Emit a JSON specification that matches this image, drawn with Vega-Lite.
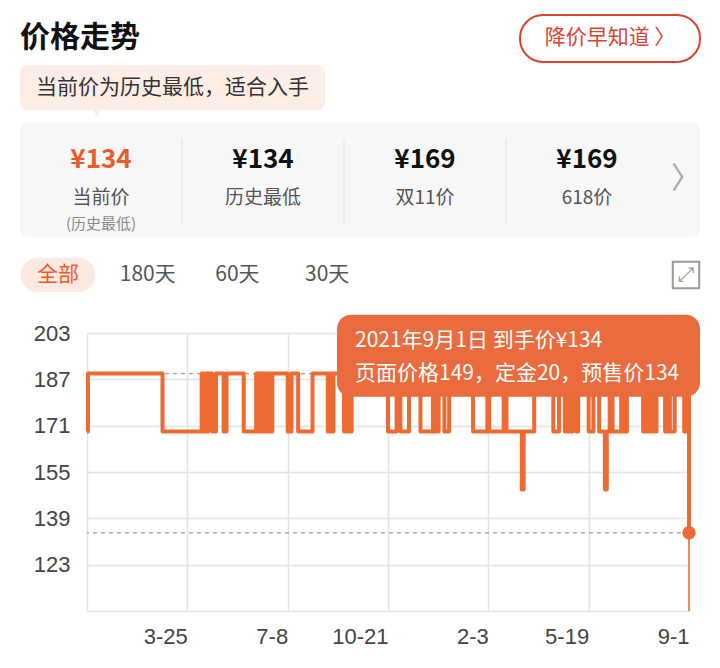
{
  "$schema": "https://vega.github.io/schema/vega-lite/v6.json",
  "background": "#ffffff",
  "padding": {"left": 20, "right": 20, "top": 0, "bottom": 0},
  "spacing": 0,
  "bounds": "flush",
  "config": {
    "view": {"stroke": null},
    "font": "Noto Sans CJK SC",
    "axisX": {"grid": true, "gridColor": "#E4E4E4", "gridWidth": 1.5, "domainColor": "#E4E4E4", "domainWidth": 1.5, "ticks": false, "labelAlign": "right", "labelFont": "Liberation Sans", "labelFontSize": 22, "labelColor": "#444444", "labelPadding": 15, "labelFlush": false, "labelOverlap": false},
    "axisY": {"grid": true, "gridColor": "#E4E4E4", "gridWidth": 1.5, "domainColor": "#E4E4E4", "domainWidth": 1.5, "ticks": false, "labelFont": "Liberation Sans", "labelFontSize": 22, "labelColor": "#444444", "labelPadding": 17}
  },
  "datasets": {
    "head": [{"part": "title", "label": "价格走势"}, {"part": "button", "label": "降价早知道 〉"}],
    "notice": [{"kind": "tip", "text": "当前价为历史最低，适合入手"}],
    "stats": [
      {"item": "当前价", "price": "¥134", "note": "(历史最低)"},
      {"item": "历史最低", "price": "¥134"},
      {"item": "双11价", "price": "¥169"},
      {"item": "618价", "price": "¥169"}
    ],
    "tabs": [{"tab": "全部"}, {"tab": "180天"}, {"tab": "60天"}, {"tab": "30天"}, {"tab": "expand"}],
    "refs": [{"line": "历史最高", "price": 189}, {"line": "历史最低", "price": 134}],
    "tip": [{"date": "2021-09-01", "price": 134, "lines": ["2021年9月1日 到手价¥134", "页面价格149，定金20，预售价134"]}],
    "series": [
      {"date":"2019-12-11","price":169},
      {"date":"2019-12-12","price":189},
      {"date":"2020-02-28","price":169},
      {"date":"2020-04-09","price":189},
      {"date":"2020-04-11","price":169},
      {"date":"2020-04-13","price":189},
      {"date":"2020-04-15","price":169},
      {"date":"2020-04-16","price":189},
      {"date":"2020-04-20","price":169},
      {"date":"2020-04-24","price":189},
      {"date":"2020-05-02","price":169},
      {"date":"2020-05-05","price":189},
      {"date":"2020-05-23","price":169},
      {"date":"2020-06-05","price":189},
      {"date":"2020-06-08","price":169},
      {"date":"2020-06-09","price":189},
      {"date":"2020-06-12","price":169},
      {"date":"2020-06-13","price":189},
      {"date":"2020-06-15","price":169},
      {"date":"2020-06-17","price":189},
      {"date":"2020-06-20","price":169},
      {"date":"2020-06-22","price":189},
      {"date":"2020-07-08","price":169},
      {"date":"2020-07-12","price":189},
      {"date":"2020-07-19","price":169},
      {"date":"2020-08-03","price":189},
      {"date":"2020-08-19","price":169},
      {"date":"2020-08-21","price":189},
      {"date":"2020-08-23","price":169},
      {"date":"2020-08-25","price":189},
      {"date":"2020-09-05","price":169},
      {"date":"2020-09-08","price":189},
      {"date":"2020-09-10","price":169},
      {"date":"2020-09-13","price":189},
      {"date":"2020-10-21","price":169},
      {"date":"2020-10-30","price":189},
      {"date":"2020-11-03","price":169},
      {"date":"2020-11-12","price":189},
      {"date":"2020-11-24","price":169},
      {"date":"2020-12-07","price":189},
      {"date":"2020-12-10","price":169},
      {"date":"2020-12-13","price":189},
      {"date":"2020-12-19","price":169},
      {"date":"2020-12-24","price":189},
      {"date":"2021-01-18","price":169},
      {"date":"2021-02-02","price":189},
      {"date":"2021-02-04","price":169},
      {"date":"2021-02-19","price":189},
      {"date":"2021-02-22","price":169},
      {"date":"2021-03-10","price":149},
      {"date":"2021-03-12","price":169},
      {"date":"2021-03-23","price":189},
      {"date":"2021-04-12","price":169},
      {"date":"2021-04-18","price":189},
      {"date":"2021-04-24","price":169},
      {"date":"2021-04-27","price":189},
      {"date":"2021-04-28","price":169},
      {"date":"2021-05-02","price":189},
      {"date":"2021-05-06","price":169},
      {"date":"2021-05-08","price":189},
      {"date":"2021-05-19","price":169},
      {"date":"2021-05-24","price":189},
      {"date":"2021-05-30","price":169},
      {"date":"2021-06-05","price":149},
      {"date":"2021-06-07","price":169},
      {"date":"2021-06-10","price":189},
      {"date":"2021-06-13","price":169},
      {"date":"2021-06-22","price":189},
      {"date":"2021-06-25","price":169},
      {"date":"2021-06-28","price":189},
      {"date":"2021-07-15","price":169},
      {"date":"2021-07-18","price":189},
      {"date":"2021-07-20","price":169},
      {"date":"2021-07-22","price":189},
      {"date":"2021-07-25","price":169},
      {"date":"2021-07-29","price":189},
      {"date":"2021-08-07","price":169},
      {"date":"2021-08-10","price":189},
      {"date":"2021-08-12","price":169},
      {"date":"2021-08-17","price":189},
      {"date":"2021-08-27","price":169},
      {"date":"2021-08-30","price":189},
      {"date":"2021-09-01","price":134}
    ]
  },
  "vconcat": [
    {
      "width": 680, "height": 65,
      "data": {"name": "head"},
      "encoding": {
        "x": {"field": "part", "type": "nominal", "axis": null, "scale": {"type": "band", "domain": ["title", "mid", "button"], "paddingInner": 0.28, "paddingOuter": 0}},
        "y": {"datum": "row", "type": "nominal", "axis": null, "scale": {"type": "band", "domain": ["row"], "paddingInner": 0, "paddingOuter": 0.191, "align": 0.833}}
      },
      "layer": [
        {"transform": [{"filter": "datum.part === 'button'"}], "mark": {"type": "bar", "fill": "#ffffff", "stroke": "#E0412F", "strokeWidth": 2, "cornerRadius": 23}},
        {"transform": [{"filter": "datum.part === 'button'"}], "mark": {"type": "text", "fontSize": 21, "color": "#E0412F", "baseline": "middle"}, "encoding": {"text": {"field": "label"}}},
        {"transform": [{"filter": "datum.part === 'title'"}], "mark": {"type": "text", "align": "left", "baseline": "middle", "fontSize": 30, "fontWeight": "bold", "color": "#111111"},
         "encoding": {"text": {"field": "label"}, "x": {"field": "part", "type": "nominal", "bandPosition": 0, "axis": null, "scale": {"type": "band", "domain": ["title", "mid", "button"], "paddingInner": 0.28, "paddingOuter": 0}}}}
      ]
    },
    {
      "width": 680, "height": 57,
      "data": {"name": "notice"},
      "encoding": {
        "x": {"field": "kind", "type": "nominal", "axis": null, "scale": {"type": "band", "domain": ["tip"], "paddingInner": 0, "paddingOuter": 0.615, "align": 0}},
        "y": {"datum": "row", "type": "nominal", "axis": null, "scale": {"type": "band", "domain": ["row"], "paddingInner": 0, "paddingOuter": 0.133, "align": 0}}
      },
      "layer": [
        {"mark": {"type": "bar", "color": "#FCEEE7", "cornerRadius": 8}},
        {"mark": {"type": "point", "shape": "triangle-down", "filled": true, "size": 220, "color": "#FCEEE7", "opacity": 1},
         "encoding": {
           "x": {"field": "kind", "type": "nominal", "bandPosition": 0.252, "axis": null, "scale": {"type": "band", "domain": ["tip"], "paddingInner": 0, "paddingOuter": 0.615, "align": 0}},
           "y": {"datum": "row", "type": "nominal", "bandPosition": 1, "axis": null, "scale": {"type": "band", "domain": ["row"], "paddingInner": 0, "paddingOuter": 0.133, "align": 0}}
         }},
        {"mark": {"type": "text", "fontSize": 21, "color": "#333333"}, "encoding": {"text": {"field": "text"}}}
      ]
    },
    {
      "width": 680, "height": 115,
      "view": {"fill": "#F7F7F7", "cornerRadius": 8, "stroke": null},
      "data": {"name": "stats"},
      "encoding": {
        "x": {"field": "item", "type": "nominal", "axis": null, "scale": {"type": "band", "domain": ["当前价", "历史最低", "双11价", "618价"], "paddingInner": 0, "paddingOuter": 0.0988, "align": 0}}
      },
      "layer": [
        {"transform": [{"filter": "datum.item !== '当前价'"}],
         "mark": {"type": "rule", "color": "#E9E9E9", "strokeWidth": 1.5, "yOffset": -21, "y2Offset": 24},
         "encoding": {
           "x": {"field": "item", "type": "nominal", "bandPosition": 0, "axis": null, "scale": {"type": "band", "domain": ["当前价", "历史最低", "双11价", "618价"], "paddingInner": 0, "paddingOuter": 0.0988, "align": 0}},
           "y": {"datum": "price", "type": "nominal", "axis": null, "scale": {"type": "point", "domain": ["price", "label"], "padding": 1.054}},
           "y2": {"datum": "label"}
         }},
        {"mark": {"type": "text", "fontSize": 26, "fontWeight": "bold"},
         "encoding": {
           "y": {"datum": "price", "type": "nominal", "axis": null, "scale": {"type": "point", "domain": ["price", "label"], "padding": 1.054}},
           "text": {"field": "price"},
           "color": {"condition": {"test": "datum.item === '当前价'", "value": "#EC5A2B"}, "value": "#111111"}
         }},
        {"mark": {"type": "text", "fontSize": 19, "color": "#555555", "dy": -1},
         "encoding": {
           "y": {"datum": "label", "type": "nominal", "axis": null, "scale": {"type": "point", "domain": ["price", "label"], "padding": 1.054}},
           "text": {"field": "item"}
         }},
        {"transform": [{"filter": "datum.note"}],
         "mark": {"type": "text", "fontSize": 15, "color": "#888888", "dy": 25},
         "encoding": {
           "y": {"datum": "label", "type": "nominal", "axis": null, "scale": {"type": "point", "domain": ["price", "label"], "padding": 1.054}},
           "text": {"field": "note"}
         }},
        {"transform": [{"filter": "datum.item === '618价'"}],
         "mark": {"type": "text", "text": "〉", "fontSize": 30, "color": "#A8A8A8", "dx": 99, "dy": 19},
         "encoding": {
           "y": {"datum": "price", "type": "nominal", "axis": null, "scale": {"type": "point", "domain": ["price", "label"], "padding": 1.054}}
         }}
      ]
    },
    {
      "width": 680, "height": 96,
      "data": {"name": "tabs"},
      "encoding": {
        "x": {"field": "tab", "type": "nominal", "axis": null, "scale": {"type": "point", "domain": ["全部", "180天", "60天", "30天", "_4", "_5", "_6", "expand"], "padding": 0.29, "align": 0.731}},
        "y": {"datum": "row", "type": "nominal", "axis": null, "scale": {"type": "band", "domain": ["row"], "paddingInner": 0, "paddingOuter": 0.9118, "align": 0.3387}}
      },
      "layer": [
        {"transform": [{"filter": "datum.tab === '全部'"}], "mark": {"type": "bar", "width": 75, "color": "#FCEAE2", "cornerRadius": 17}},
        {"transform": [{"filter": "datum.tab !== 'expand'"}], "mark": {"type": "text", "fontSize": 21},
         "encoding": {"text": {"field": "tab"}, "color": {"condition": {"test": "datum.tab === '全部'", "value": "#EC5A2B"}, "value": "#555555"}}},
        {"transform": [{"filter": "datum.tab === 'expand'"}], "mark": {"type": "point", "shape": "square", "size": 700, "filled": false, "stroke": "#9A9A9A", "strokeWidth": 2, "opacity": 1}},
        {"transform": [{"filter": "datum.tab === 'expand'"}], "mark": {"type": "text", "text": "⤢", "font": "DejaVu Sans", "fontSize": 20, "color": "#9A9A9A"}}
      ]
    },
    {
      "spacing": 0,
      "bounds": "flush",
      "hconcat": [
        {"width": 67, "height": 278, "data": {"values": [{}]}, "mark": {"type": "text", "text": ""}, "encoding": {}},
        {
          "width": 602, "height": 278,
          "layer": [
            {"data": {"name": "refs"},
             "mark": {"type": "rule", "color": "#9E9E9E", "strokeWidth": 1.2, "strokeDash": [4, 4]},
             "encoding": {
               "y": {"field": "price", "type": "quantitative", "title": null, "scale": {"domain": [107, 203], "nice": false, "zero": false}, "axis": {"values": [123, 139, 155, 171, 187, 203]}}
             }},
            {"data": {"name": "series"},
             "mark": {"type": "line", "interpolate": "step-after", "color": "#EE6A33", "strokeWidth": 4, "strokeJoin": "round"},
             "encoding": {
               "x": {"field": "date", "type": "temporal", "title": null,
                     "scale": {"type": "utc", "nice": false, "domain": [{"year": 2019, "month": 12, "date": 11, "utc": true}, {"year": 2021, "month": 9, "date": 1, "utc": true}]},
                     "axis": {"format": "%-m-%-d", "values": [
                       {"year": 2020, "month": 3, "date": 25, "utc": true},
                       {"year": 2020, "month": 7, "date": 8, "utc": true},
                       {"year": 2020, "month": 10, "date": 21, "utc": true},
                       {"year": 2021, "month": 2, "date": 3, "utc": true},
                       {"year": 2021, "month": 5, "date": 19, "utc": true},
                       {"year": 2021, "month": 9, "date": 1, "utc": true}]}},
               "y": {"field": "price", "type": "quantitative", "title": null, "scale": {"domain": [107, 203], "nice": false, "zero": false}, "axis": {"values": [123, 139, 155, 171, 187, 203]}}
             }},
            {"data": {"name": "tip"},
             "mark": {"type": "rule", "color": "#EE6A33", "strokeWidth": 1.5},
             "encoding": {
               "x": {"field": "date", "type": "temporal", "title": null, "scale": {"type": "utc", "nice": false, "domain": [{"year": 2019, "month": 12, "date": 11, "utc": true}, {"year": 2021, "month": 9, "date": 1, "utc": true}]}}
             }},
            {"data": {"name": "tip"},
             "mark": {"type": "point", "filled": true, "size": 180, "color": "#EE6A33", "opacity": 1},
             "encoding": {
               "x": {"field": "date", "type": "temporal", "title": null, "scale": {"type": "utc", "nice": false, "domain": [{"year": 2019, "month": 12, "date": 11, "utc": true}, {"year": 2021, "month": 9, "date": 1, "utc": true}]}},
               "y": {"field": "price", "type": "quantitative", "title": null, "scale": {"domain": [107, 203], "nice": false, "zero": false}}
             }},
            {"data": {"name": "tip"},
             "mark": {"type": "rect", "color": "#EA6B3D", "opacity": 1, "cornerRadius": 14, "xOffset": -352, "x2Offset": 11, "yOffset": -218, "y2Offset": -136},
             "encoding": {
               "x": {"field": "date", "type": "temporal", "title": null, "scale": {"type": "utc", "nice": false, "domain": [{"year": 2019, "month": 12, "date": 11, "utc": true}, {"year": 2021, "month": 9, "date": 1, "utc": true}]}},
               "x2": {"field": "date"},
               "y": {"field": "price", "type": "quantitative", "title": null, "scale": {"domain": [107, 203], "nice": false, "zero": false}},
               "y2": {"field": "price"}
             }},
            {"data": {"name": "tip"},
             "mark": {"type": "text", "align": "left", "baseline": "middle", "color": "#FFFFFF", "fontSize": 21, "lineHeight": 33, "dx": -334, "dy": -192},
             "encoding": {
               "x": {"field": "date", "type": "temporal", "title": null, "scale": {"type": "utc", "nice": false, "domain": [{"year": 2019, "month": 12, "date": 11, "utc": true}, {"year": 2021, "month": 9, "date": 1, "utc": true}]}},
               "y": {"field": "price", "type": "quantitative", "title": null, "scale": {"domain": [107, 203], "nice": false, "zero": false}},
               "text": {"field": "lines"}
             }}
          ]
        }
      ]
    }
  ]
}
